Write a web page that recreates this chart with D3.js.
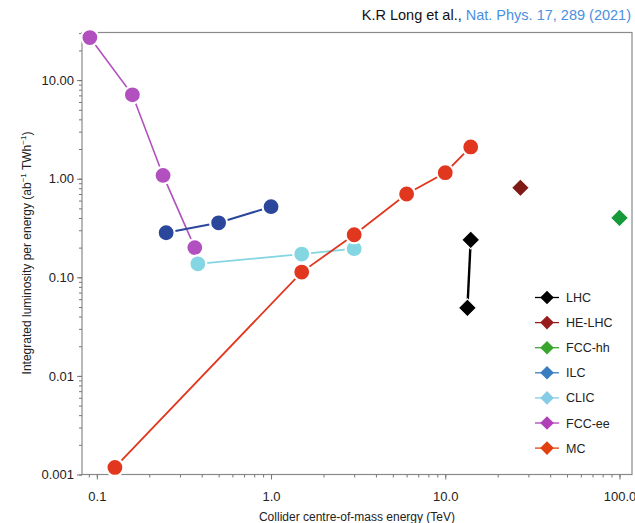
<!DOCTYPE html>
<html>
<head>
<meta charset="utf-8">
<script src="https://cdn.jsdelivr.net/npm/d3@7"></script>
<style>
  html, body { margin: 0; padding: 0; background: #fff; }
  svg { display: block; font-family: "Liberation Sans", Arial, Helvetica, sans-serif; }
</style>
</head>
<body>
<svg id="chart" width="635" height="523"></svg>
<script>
// ---- Data (energy in TeV, luminosity per energy in ab^-1 TWh^-1) ----
const fccEeEnergy = [0.0912, 0.16, 0.24, 0.365];
const fccEeLumi   = [27.0, 7.1, 1.08, 0.20];

const ilcEnergy = [0.25, 0.5, 1.0];
const ilcLumi   = [0.283, 0.357, 0.52];

const clicEnergy = [0.38, 1.5, 3.0];
const clicLumi   = [0.137, 0.172, 0.195];

const mcEnergy = [0.127, 1.5, 3.0, 6.0, 10.0, 14.0];
const mcLumi   = [0.00118, 0.113, 0.27, 0.70, 1.15, 2.1];

const lhcEnergy = [14.0, 13.4];
const lhcLumi   = [0.24, 0.049];

const heLhcEnergy = [27.0];
const heLhcLumi   = [0.81];

const fccHhEnergy = [100.0];
const fccHhLumi   = [0.40];

const legendNames  = ["LHC", "HE-LHC", "FCC-hh", "ILC", "CLIC", "FCC-ee", "MC"];
const legendColors = ["#000000", "#9a1b1b", "#3aa52e", "#3a7cc0", "#86cce6", "#b040b8", "#e2400f"];

const xTickValues = [0.1, 1, 10, 100];
const xTickLabels = ["0.1", "1.0", "10.0", "100.0"];
const yTickValues = [10, 1, 0.1, 0.01, 0.001];
const yTickLabels = ["10.00", "1.00", "0.10", "0.01", "0.001"];

(function () {
// ---- Layout ----
const svg = d3.select("#chart");
const pLeft = 82, pRight = 632, pTop = 32.5, pBottom = 474.5;

const x = d3.scaleLog().domain([0.0822, 118]).range([pLeft, pRight]);
const y = d3.scaleLog().domain([0.001, 30.4]).range([pBottom, pTop]);

// Title
const title = svg.append("text")
  .attr("x", 631).attr("y", 20)
  .attr("text-anchor", "end")
  .attr("font-size", 14.5)
  .attr("fill", "#111");
title.append("tspan").text("K.R Long et al., ");
title.append("tspan").attr("fill", "#4a90e2").text("Nat. Phys. 17, 289 (2021)");

// Frame
svg.append("rect")
  .attr("x", pLeft).attr("y", pTop)
  .attr("width", pRight - pLeft).attr("height", pBottom - pTop)
  .attr("fill", "none").attr("stroke", "#8a8a8a").attr("stroke-width", 1.2);

// Minor tick values
function minorTicks(scale) {
  const [a, b] = scale.domain();
  const out = [];
  for (let e = -4; e <= 3; e++) {
    for (let m = 1; m <= 9; m++) {
      const v = m * Math.pow(10, e);
      if (v >= a * 0.9999 && v <= b * 1.0001) out.push(v);
    }
  }
  return out;
}

// X axis
const xAxisG = svg.append("g").attr("transform", `translate(0,${pBottom})`);
xAxisG.call(d3.axisBottom(x).tickValues(minorTicks(x)).tickSize(3).tickFormat(""));
xAxisG.append("g").call(d3.axisBottom(x).tickValues(xTickValues).tickSize(5)
  .tickFormat((d, i) => xTickLabels[i]));
xAxisG.selectAll(".domain").remove();
xAxisG.selectAll("line").attr("stroke", "#777");
xAxisG.selectAll("text").attr("font-size", 13).attr("fill", "#222")
  .attr("font-family", "Liberation Sans, Arial, sans-serif").attr("dy", "1.45em");

// Y axis
const yAxisG = svg.append("g").attr("transform", `translate(${pLeft},0)`);
yAxisG.call(d3.axisLeft(y).tickValues(minorTicks(y)).tickSize(3).tickFormat(""));
yAxisG.append("g").call(d3.axisLeft(y).tickValues(yTickValues).tickSize(5)
  .tickFormat((d, i) => yTickLabels[i]));
yAxisG.selectAll(".domain").remove();
yAxisG.selectAll("line").attr("stroke", "#777");
yAxisG.selectAll("text").attr("font-size", 13).attr("fill", "#222")
  .attr("font-family", "Liberation Sans, Arial, sans-serif").attr("x", -8);

// Axis titles
svg.append("text")
  .attr("x", 357).attr("y", 521)
  .attr("text-anchor", "middle").attr("font-size", 12).attr("fill", "#222")
  .text("Collider centre-of-mass energy (TeV)");

const yl = svg.append("text")
  .attr("transform", "translate(31,253) rotate(-90)")
  .attr("text-anchor", "middle").attr("font-size", 12).attr("fill", "#222");
yl.append("tspan").text("Integrated luminosity per energy (ab");
yl.append("tspan").attr("font-size", 8).attr("dy", -5).text("\u22121");
yl.append("tspan").attr("dy", 5).text(" TWh");
yl.append("tspan").attr("font-size", 8).attr("dy", -5).text("\u22121");
yl.append("tspan").attr("dy", 5).text(")");

// ---- Series drawing ----
const line = d3.line().x(d => x(d[0])).y(d => y(d[1]));
const plot = svg.append("g");

function zip(a, b) { return a.map((v, i) => [v, b[i]]); }

function drawCircles(E, L, color, lw) {
  const pts = zip(E, L);
  const g = plot.append("g");
  g.append("path").datum(pts).attr("d", line)
    .attr("fill", "none").attr("stroke", color).attr("stroke-width", lw);
  g.selectAll("circle").data(pts).join("circle")
    .attr("cx", d => x(d[0])).attr("cy", d => y(d[1])).attr("r", 8.5)
    .attr("fill", color).attr("stroke", "#fff").attr("stroke-width", 2.2);
}

function diamondPath(cx, cy, r) {
  return `M${cx},${cy - r}L${cx + r},${cy}L${cx},${cy + r}L${cx - r},${cy}Z`;
}

function drawDiamonds(E, L, color, lw) {
  const pts = zip(E, L);
  const g = plot.append("g");
  if (pts.length > 1) {
    g.append("path").datum(pts).attr("d", line)
      .attr("fill", "none").attr("stroke", color).attr("stroke-width", lw);
  }
  g.selectAll("path.dm").data(pts).join("path").attr("class", "dm")
    .attr("d", d => diamondPath(x(d[0]), y(d[1]), 9))
    .attr("fill", color).attr("stroke", "#fff").attr("stroke-width", 1.2);
}

drawCircles(fccEeEnergy, fccEeLumi, "#b150be", 1.6);
drawCircles(ilcEnergy, ilcLumi, "#2a479b", 2);
drawCircles(clicEnergy, clicLumi, "#84d6e2", 1.8);
drawCircles(mcEnergy, mcLumi, "#e1371f", 1.8);
drawDiamonds(lhcEnergy, lhcLumi, "#000000", 2.4);
drawDiamonds(heLhcEnergy, heLhcLumi, "#7f1a14", 2);
drawDiamonds(fccHhEnergy, fccHhLumi, "#169a3a", 2);

// ---- Legend ----
const legend = svg.append("g");
const legendY0 = 297.5, legendStep = 25.1, lx = 547;
legendNames.forEach((name, i) => {
  const yy = legendY0 + i * legendStep;
  const c = legendColors[i];
  legend.append("line").attr("x1", lx - 12).attr("x2", lx + 12)
    .attr("y1", yy).attr("y2", yy).attr("stroke", c).attr("stroke-width", 1.3);
  legend.append("path").attr("d", diamondPath(lx, yy, 6.8)).attr("fill", c);
  legend.append("text").attr("x", 566).attr("y", yy + 4.5)
    .attr("font-size", 12.5).attr("fill", "#222").text(name);
});
})();
</script>
</body>
</html>
